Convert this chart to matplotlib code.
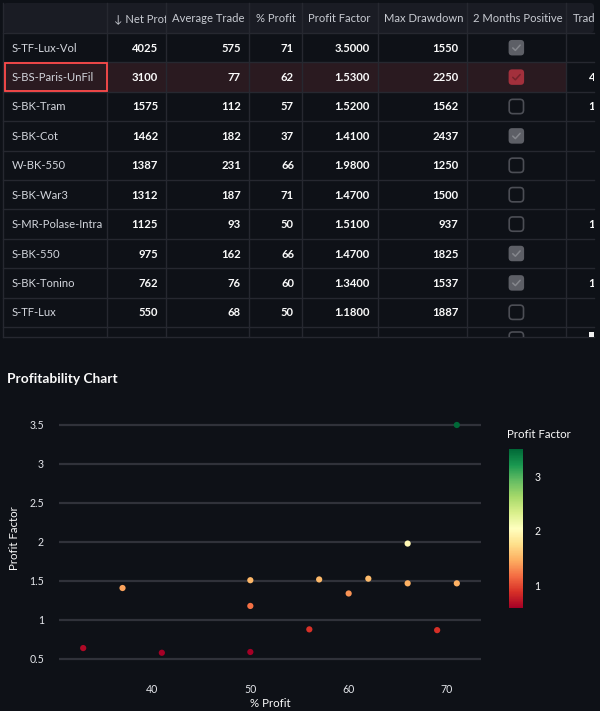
import matplotlib
matplotlib.use("Agg")
import matplotlib.pyplot as plt
from matplotlib.patches import Rectangle, FancyBboxPatch
from matplotlib.lines import Line2D
from matplotlib.colors import Normalize
import matplotlib.cm as cm

plt.rcParams['font.family'] = ['Lato', 'DejaVu Sans']

# ---------------- data ----------------
strategies = ["S-TF-Lux-Vol", "S-BS-Paris-UnFil", "S-BK-Tram", "S-BK-Cot", "W-BK-550",
              "S-BK-War3", "S-MR-Polase-Intra", "S-BK-550", "S-BK-Tonino", "S-TF-Lux"]
net_profit = [4025, 3100, 1575, 1462, 1387, 1312, 1125, 975, 762, 550]
avg_trade = [575, 77, 112, 182, 231, 187, 93, 162, 76, 68]
pct_profit = [71, 62, 57, 37, 66, 71, 50, 66, 60, 50]
profit_factor = [3.5, 1.53, 1.52, 1.41, 1.98, 1.47, 1.51, 1.47, 1.34, 1.18]
max_drawdown = [1550, 2250, 1562, 2437, 1250, 1500, 937, 1825, 1537, 1887]
two_months_pos = [True, True, False, True, False, False, False, True, True, False]
trades_visible = ["", "4", "1", "", "", "", "1", "", "1", ""]
headers = ["", "\u2193 Net Profit", "Average Trade", "% Profit", "Profit Factor",
           "Max Drawdown", "2 Months Positive", "Trades"]

# strategies below the visible table rows (only in the chart)
extra_pct_profit = [33, 41, 50, 56, 69]
extra_profit_factor = [0.64, 0.58, 0.59, 0.88, 0.87]

chart_pct = pct_profit + extra_pct_profit
chart_pf = profit_factor + extra_profit_factor

# ---------------- style ----------------
BG = "#0e1117"
HEADER_BG = "#1a1c24"
LINE = "#262830"
FS = 8.1
W, H = 600, 711
fig = plt.figure(figsize=(W / 100, H / 100), dpi=100, facecolor=BG)

bg = fig.add_axes([0, 0, 1, 1])
bg.set_xlim(0, W)
bg.set_ylim(H, 0)
bg.axis("off")
bg.set_facecolor(BG)

col_edges = [3, 107, 166, 249, 302, 377.7, 466.7, 566, 594]
top, header_bot, row_h = 3, 33, 29.4
table_bot = 337
n_rows = len(strategies)

# header background
bg.add_patch(FancyBboxPatch((3, top), 591, header_bot - top,
                            boxstyle="round,pad=0,rounding_size=4",
                            fc=HEADER_BG, ec="none", zorder=1))
# selected row background
sel = 1
y0 = header_bot + sel * row_h
bg.add_patch(Rectangle((3, y0), 566 - 3, row_h, fc="#2a1a20", ec="none", zorder=1))

# grid lines
for k in range(n_rows + 1):
    y = header_bot + k * row_h
    bg.add_line(Line2D([3, 594], [y, y], color=LINE, lw=1.0, zorder=2))
bg.add_line(Line2D([3, 594], [table_bot, table_bot], color=LINE, lw=1.0, zorder=2))
for x in col_edges[1:-1]:
    bg.add_line(Line2D([x, x], [top, table_bot], color=LINE, lw=1.0, zorder=2))
bg.add_line(Line2D([3, 3], [top, table_bot], color=LINE, lw=1.0, zorder=2))

# header text
for j, h in enumerate(headers):
    if not h:
        continue
    xl, xr = col_edges[j], col_edges[j + 1]
    t = bg.text(xl + 6.5, (top + header_bot) / 2 + 0.5, h, color="#c8cbd2",
                fontsize=FS, ha="left", va="center", zorder=3, clip_on=True)
    t.set_clip_path(Rectangle((xl, top), xr - xl - 0.5, header_bot - top,
                              transform=bg.transData))

def cell_text(j, i, s, bold=True, color="#fafafa", ha="right", x=None):
    xl, xr = col_edges[j], col_edges[j + 1]
    yc = header_bot + (i + 0.5) * row_h
    if x is None:
        x = xr - 8 if ha == "right" else xl + 8.5
    t = bg.text(x, yc + 0.5, s, color=color, fontsize=FS, ha=ha, va="center",
                fontweight="bold" if bold else "normal", zorder=3, clip_on=True)
    t.set_clip_path(Rectangle((xl, header_bot + i * row_h), xr - xl, row_h,
                              transform=bg.transData))

def checkbox(i, checked, selected=False):
    xc = (col_edges[6] + col_edges[7]) / 2
    yc = header_bot + (i + 0.5) * row_h
    s = 15.5
    if checked:
        fc = "#a3303c" if selected else "#5d5f66"
        mc = "#74222b" if selected else "#85878d"
        bg.add_patch(FancyBboxPatch((xc - s / 2, yc - s / 2), s, s,
                                    boxstyle="round,pad=0,rounding_size=3.5",
                                    fc=fc, ec="none", zorder=3))
        bg.add_line(Line2D([xc - 3.6, xc - 1.0, xc + 3.8], [yc + 0.2, yc + 2.7, yc - 2.6],
                           color=mc, lw=1.1, zorder=4, solid_capstyle="round"))
    else:
        bg.add_patch(FancyBboxPatch((xc - s / 2 + 0.6, yc - s / 2 + 0.6), s - 1.2, s - 1.2,
                                    boxstyle="round,pad=0,rounding_size=3.5",
                                    fc="none", ec="#4c4e55", lw=1.2, zorder=3))

for i in range(n_rows):
    cell_text(0, i, strategies[i], bold=False, color="#d2d5dc", ha="left", x=11.7)
    cell_text(1, i, str(net_profit[i]))
    cell_text(2, i, str(avg_trade[i]))
    cell_text(3, i, str(pct_profit[i]))
    cell_text(4, i, f"{profit_factor[i]:.4f}")
    cell_text(5, i, str(max_drawdown[i]))
    checkbox(i, two_months_pos[i], selected=(i == sel))
    if trades_visible[i]:
        cell_text(7, i, trades_visible[i], ha="left", x=588.5)

# partially visible next row's checkbox
xc = (col_edges[6] + col_edges[7]) / 2
pb = FancyBboxPatch((xc - 7.15, 332), 14.3, 14.3, boxstyle="round,pad=0,rounding_size=3.5",
                    fc="none", ec="#4c4e55", lw=1.2, zorder=3)
bg.add_patch(pb)
pb.set_clip_path(Rectangle((0, 0), 600, table_bot, transform=bg.transData))
# selection border on index cell
bg.add_patch(Rectangle((4.5, y0 + 0.5), 102, row_h - 1, fc="none", ec="#ff4b4b", lw=1.3, zorder=5))
# scrollbar corner
bg.add_patch(Rectangle((589, 332), 5, 5, fc="#f0f0f0", ec="none", zorder=5))

# ---------------- chart ----------------
bg.text(7, 379, "Profitability Chart", color="#fafafa", fontsize=9.9,
        fontweight="bold", ha="left", va="center")

def rect(l, t, r, b):
    return [l / W, (H - b) / H, (r - l) / W, (b - t) / H]

ax = fig.add_axes(rect(59, 415, 481, 678))
ax.set_facecolor("none")
ax.set_xlim(30.54, 73.46)
ax.set_ylim(0.2564, 3.628)
for s in ax.spines.values():
    s.set_visible(False)
ax.set_xticks([40, 50, 60, 70])
ax.set_yticks([0.5, 1, 1.5, 2, 2.5, 3, 3.5])
ax.set_yticklabels(["0.5", "1", "1.5", "2", "2.5", "3", "3.5"])
ax.tick_params(axis="both", length=0, colors="#e4e6eb", labelsize=7.6)
ax.tick_params(axis="y", pad=10.8)
ax.tick_params(axis="x", pad=4.5)
ax.grid(axis="y", color="#30323a", lw=1.6)
ax.set_axisbelow(True)

norm = Normalize(vmin=min(chart_pf), vmax=max(chart_pf))
cmap = plt.get_cmap("RdYlGn")
ax.scatter(chart_pct, chart_pf, c=chart_pf, cmap=cmap, norm=norm, s=20,
           edgecolors="none", zorder=3)

bg.text(270, 703.5, "% Profit", color="#fafafa", fontsize=8.3, ha="center", va="center")
bg.text(14, 538, "Profit Factor", color="#fafafa", fontsize=8.3, ha="center",
        va="center", rotation=90)

# colorbar
cax = fig.add_axes(rect(509, 449, 523, 608))
cb = fig.colorbar(cm.ScalarMappable(norm=norm, cmap=cmap), cax=cax)
cb.outline.set_visible(False)
cb.set_ticks([1, 2, 3])
cb.ax.tick_params(length=0, colors="#fafafa", labelsize=7.6, pad=8)
bg.text(507, 434, "Profit Factor", color="#fafafa", fontsize=8.3, ha="left", va="center")

fig.savefig("out.png", dpi=100, facecolor=BG)
